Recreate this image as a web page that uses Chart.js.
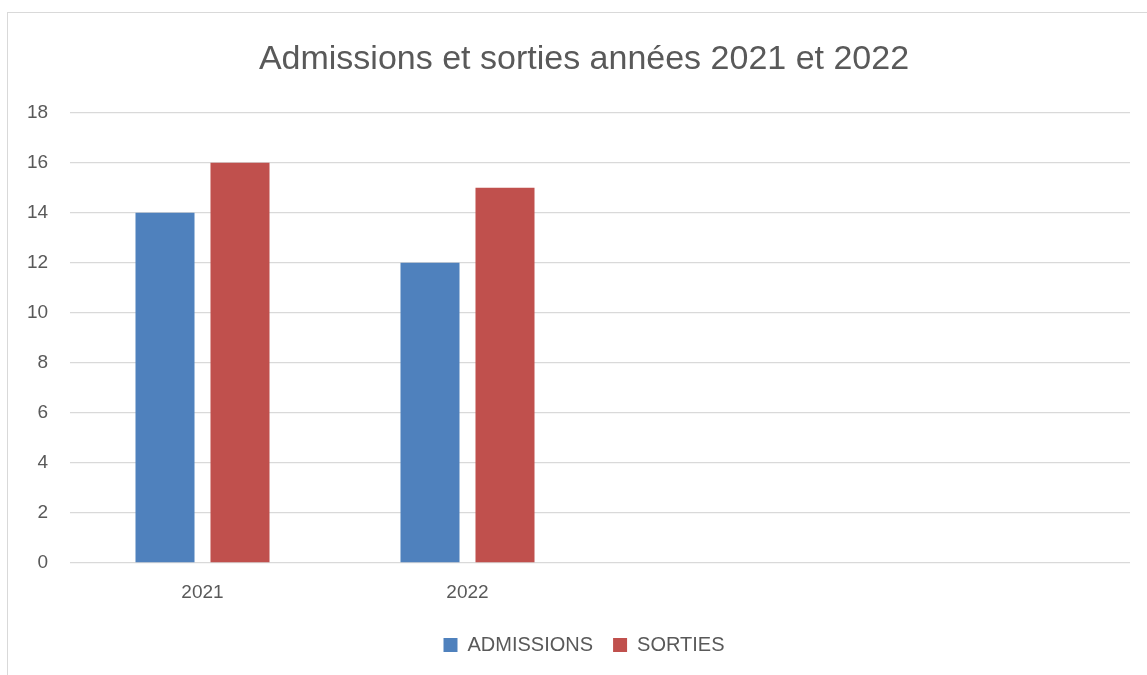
<!DOCTYPE html>
<html>
<head>
<meta charset="utf-8">
<script src="https://cdn.jsdelivr.net/npm/chart.js@4"></script>
<style>
  html, body { margin: 0; padding: 0; background: #fff; }
  #frame { position: absolute; left: 7px; top: 12px; width: 1200px; height: 700px; border: 1px solid #d9d9d9; }
  #wrap { position: absolute; left: 0; top: 0; width: 1147px; height: 675px; }
</style>
</head>
<body>
<div id="frame"></div>
<div id="wrap"><canvas id="chart" width="1147" height="675"></canvas></div>
<script>
// categories (two empty slots, as in the original sheet)
const years = ['2021', '2022', '', ''];
const admissions = [14, 12, null, null];
const sorties = [16, 15, null, null];
const yTicks = [0, 2, 4, 6, 8, 10, 12, 14, 16, 18];

const grey = '#595959';
const font = 'Liberation Sans, Arial, sans-serif';

const ctx = document.getElementById('chart').getContext('2d');
new Chart(ctx, {
    type: 'bar',
    data: {
        labels: years,
        datasets: [{
            label: 'ADMISSIONS',
            data: admissions,
            backgroundColor: '#4f81bd',
            categoryPercentage: 0.566,
            barPercentage: 0.787
        }, {
            label: 'SORTIES',
            data: sorties,
            backgroundColor: '#c0504d',
            categoryPercentage: 0.566,
            barPercentage: 0.787
        }]
    },
    options: {
        responsive: false,
        animation: false,
        // left padding keeps title/legend centred like the frame in the original
        layout: { padding: { left: 38, right: 17, top: 0, bottom: 10 } },
        scales: {
            x: {
                grid: { display: false },
                border: { display: false },
                ticks: { color: grey, font: { family: font, size: 19 }, padding: 10 },
                afterFit: (scale) => { scale.height = 52; }
            },
            y: {
                min: 0,
                max: 18,
                afterBuildTicks: (scale) => { scale.ticks = yTicks.map(v => ({ value: v })); },
                grid: { color: '#d9d9d9', lineWidth: 1.3, drawTicks: false },
                border: { display: false },
                // mirrored so the labels are not clipped to the narrow axis box
                ticks: {
                    color: grey, font: { family: font, size: 19 },
                    mirror: true, crossAlign: 'far', padding: -43
                },
                afterFit: (scale) => { scale.width = 32; }
            }
        },
        plugins: {
            title: {
                display: true,
                text: 'Admissions et sorties années 2021 et 2022',
                color: grey,
                font: { family: font, size: 34, weight: 'normal' },
                padding: { top: 39, bottom: 33 }
            },
            legend: {
                position: 'bottom',
                labels: {
                    color: grey,
                    font: { family: font, size: 20 },
                    boxWidth: 14,
                    boxHeight: 14,
                    padding: 20
                }
            },
            tooltip: { enabled: false }
        }
    }
});
</script>
</body>
</html>
